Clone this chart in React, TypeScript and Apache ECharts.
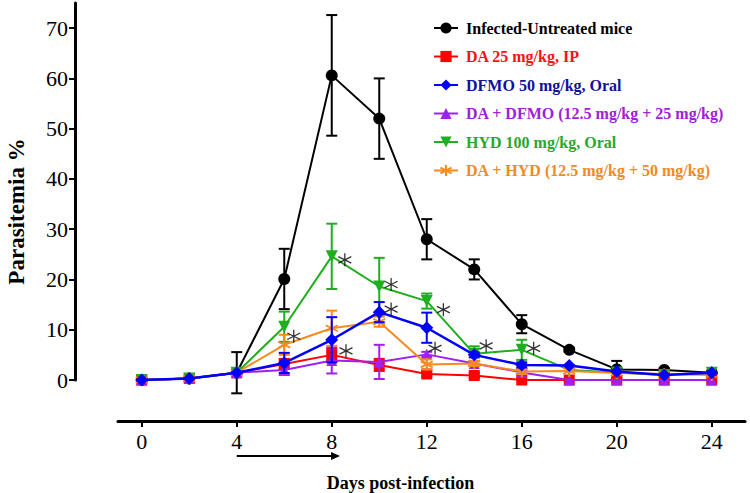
import React, { useEffect, useRef } from "react";
import * as echarts from "echarts";

const days = [0, 2, 4, 6, 8, 10, 12, 14, 16, 18, 20, 22, 24];
const xTicks = [0, 4, 8, 12, 16, 20, 24];
const yTicks = [0, 10, 20, 30, 40, 50, 60, 70];

const seriesNames = [
  "Infected-Untreated mice",
  "DA 25 mg/kg, IP",
  "DFMO 50 mg/kg, Oral",
  "DA + DFMO (12.5 mg/kg + 25 mg/kg)",
  "HYD 100 mg/kg, Oral",
  "DA + HYD (12.5 mg/kg + 50 mg/kg)",
];

const untreated = [0, 0.3, 1.45, 20.1, 60.6, 52.0, 28.0, 22.0, 11.1, 6.0, 2.1, 2.0, 1.45];
const untreatedErr = [0, 0, 4.1, 6, 12, 8, 4, 2, 1.8, 0.4, 1.7, 0.3, 0];
const da25 = [0, 0.3, 1.45, 3.2, 5.0, 3.0, 1.2, 0.9, 0, 0, 0, 0, 0];
const da25Err = [0, 0, 0, 1, 1.2, 1.2, 0.5, 0.5, 0, 0, 0, 0, 0];
const dfmo50 = [0, 0.3, 1.45, 3.4, 8.0, 13.5, 10.4, 5.0, 3.0, 2.9, 1.7, 1.0, 1.45];
const dfmo50Err = [0, 0, 0, 2, 4.5, 2, 3, 0.5, 0.5, 0, 0, 0, 0];
const daDfmo = [0, 0.3, 1.45, 2.0, 3.9, 3.6, 5.1, 3.3, 1.5, 0, 0, 0, 0];
const daDfmoErr = [0, 0, 0, 1, 2.6, 3.4, 0.5, 0.5, 0.3, 0, 0, 0, 0];
const hyd100 = [0, 0.3, 1.45, 10.6, 24.6, 18.6, 15.7, 5.2, 6.0, 2.0, 1.5, 1.0, 1.45];
const hyd100Err = [0, 0, 0, 3, 6.5, 5.7, 1.5, 1.5, 2, 0, 0, 0, 0];
const daHyd = [0, 0.3, 1.45, 7.0, 10.3, 11.6, 3.1, 3.3, 1.7, 1.8, 1.4, 1.2, 1.0];
const daHydErr = [0, 0, 0, 2, 3.5, 1, 1, 0.5, 0.5, 0, 0, 0, 0];

// significance asterisks: [day, value]
const asterisks = [
  [6.4, 8.7],
  [8.6, 5.8],
  [8.55, 23.9],
  [10.5, 19.0],
  [10.5, 14.1],
  [12.7, 14.0],
  [12.35, 6.3],
  [14.5, 6.8],
  [16.5, 6.3],
];

// treatment arrow from day 4 to day 8, drawn below the axis
const arrowDays = [4, 8.35];
const arrowLevel = -15.1;

const colors = ["#000000", "#ff0000", "#0000ff", "#a020f0", "#1fae1f", "#f58a1f"];
const textColors = ["#000000", "#ff1010", "#10109a", "#a020d8", "#2aa82a", "#f08a24"];

const ASTERISK = "path://M5,0L5,10M0.67,2.5L9.33,7.5M0.67,7.5L9.33,2.5";

const values = [untreated, da25, dfmo50, daDfmo, hyd100, daHyd];
const errors = [untreatedErr, da25Err, dfmo50Err, daDfmoErr, hyd100Err, daHydErr];
const symbols = ["circle", "rect", "diamond", "triangle", "triangle", ASTERISK];
const symbolSizes = [12, 11, 13, 11, 12, 12];
const symbolRotates = [0, 0, 0, 0, 180, 0];
const lineWidths = [2, 2, 2.5, 2, 2, 2];
const zs = [2, 2, 5, 3, 3, 4];

const SERIF = "Liberation Serif";

export default function App() {
  const ref = useRef<HTMLDivElement>(null);

  useEffect(() => {
    document.body.style.margin = "0";
    if (!ref.current) return;
    const chart = echarts.init(ref.current, null, { renderer: "svg" });

    const lineSeries = values.map((vals, i) => ({
      type: "line",
      name: seriesNames[i],
      data: days.map((d, j) => [d, vals[j]]),
      symbol: symbols[i],
      symbolSize: symbolSizes[i],
      symbolRotate: symbolRotates[i],
      showAllSymbol: true,
      clip: false,
      z: zs[i],
      lineStyle: { color: colors[i], width: lineWidths[i] },
      itemStyle:
        i === 5
          ? { color: colors[i], borderColor: colors[i], borderWidth: 1.8 }
          : { color: colors[i], borderWidth: 0 },
      emphasis: { disabled: true },
    }));

    const errSeries = values.map((vals, i) => ({
      type: "custom",
      name: "err" + i,
      z: zs[i],
      clip: false,
      silent: true,
      data: days.map((d, j) => [d, vals[j], errors[i][j]]),
      encode: { x: 0, y: 1 },
      renderItem: (params: any, api: any) => {
        const x = api.value(0);
        const y = api.value(1);
        const e = api.value(2);
        if (!e) return null;
        const top = api.coord([x, y + e]);
        const bot = api.coord([x, y - e]);
        const h = 5.5;
        const st = { stroke: colors[i], lineWidth: 2 };
        return {
          type: "group",
          children: [
            { type: "line", shape: { x1: top[0], y1: top[1], x2: bot[0], y2: bot[1] }, style: st },
            { type: "line", shape: { x1: top[0] - h, y1: top[1], x2: top[0] + h, y2: top[1] }, style: st },
            { type: "line", shape: { x1: bot[0] - h, y1: bot[1], x2: bot[0] + h, y2: bot[1] }, style: st },
          ],
        };
      },
    }));

    const option: any = {
      animation: false,
      textStyle: { fontFamily: SERIF },
      grid: { left: 118, right: 5, top: 3, bottom: 113, containLabel: false, outerBoundsMode: "none" },
      legend: {
        orient: "vertical",
        left: 428,
        top: 15,
        itemWidth: 24,
        itemHeight: 14,
        itemGap: 12.5,
        selectedMode: false,
        data: seriesNames.map((n, i) => ({
          name: n,
          textStyle: { color: textColors[i] },
        })),
        textStyle: { fontFamily: SERIF, fontWeight: "bold", fontSize: 16, padding: [0, 0, 0, 3] },
      },
      xAxis: {
        type: "value",
        min: -1,
        max: 25.4,
        offset: 41,
        position: "bottom",
        name: "Days post-infection",
        nameLocation: "middle",
        nameGap: 53,
        nameTextStyle: {
          fontFamily: SERIF,
          fontWeight: "bold",
          fontSize: 18,
          color: "#000",
          padding: [0, 62, 0, 0],
        },
        axisLine: { show: true, onZero: false, lineStyle: { color: "#000", width: 3 } },
        axisTick: { show: true, customValues: xTicks, length: 6, lineStyle: { color: "#000", width: 2 } },
        axisLabel: { customValues: xTicks, fontSize: 22, color: "#000", fontFamily: SERIF, margin: 9 },
        splitLine: { show: false },
      },
      yAxis: {
        type: "value",
        min: 0,
        max: 75,
        offset: 43,
        name: "Parasitemia %",
        nameLocation: "middle",
        nameRotate: 90,
        nameGap: 47,
        nameTextStyle: {
          fontFamily: SERIF,
          fontWeight: "bold",
          fontSize: 23,
          color: "#000",
          padding: [0, 40, 0, 0],
        },
        axisLine: { show: true, onZero: false, lineStyle: { color: "#000", width: 3 } },
        axisTick: { show: true, customValues: yTicks, length: 6, lineStyle: { color: "#000", width: 2 } },
        axisLabel: { customValues: yTicks, fontSize: 22, color: "#000", fontFamily: SERIF, margin: 7 },
        splitLine: { show: false },
      },
      series: [
        ...errSeries,
        ...lineSeries,
        {
          type: "scatter",
          name: "asterisks",
          data: asterisks,
          symbol: ASTERISK,
          symbolSize: 13,
          clip: false,
          z: 6,
          silent: true,
          itemStyle: { color: "#000", borderColor: "#000", borderWidth: 1.3 },
        },
        {
          type: "custom",
          name: "arrow",
          clip: false,
          silent: true,
          data: [[arrowDays[0], arrowDays[1], arrowLevel]],
          encode: { x: 0, y: 2 },
          renderItem: (params: any, api: any) => {
            const a = api.coord([api.value(0), api.value(2)]);
            const b = api.coord([api.value(1), api.value(2)]);
            return {
              type: "group",
              children: [
                {
                  type: "line",
                  shape: { x1: a[0], y1: a[1], x2: b[0] - 6, y2: b[1] },
                  style: { stroke: "#000", lineWidth: 2 },
                },
                {
                  type: "polygon",
                  shape: { points: [[b[0], b[1]], [b[0] - 9, b[1] - 4], [b[0] - 9, b[1] + 4]] },
                  style: { fill: "#000" },
                },
              ],
            };
          },
        },
      ],
    };

    chart.setOption(option);
    return () => chart.dispose();
  }, []);

  return <div ref={ref} style={{ width: 750, height: 493 }} />;
}
